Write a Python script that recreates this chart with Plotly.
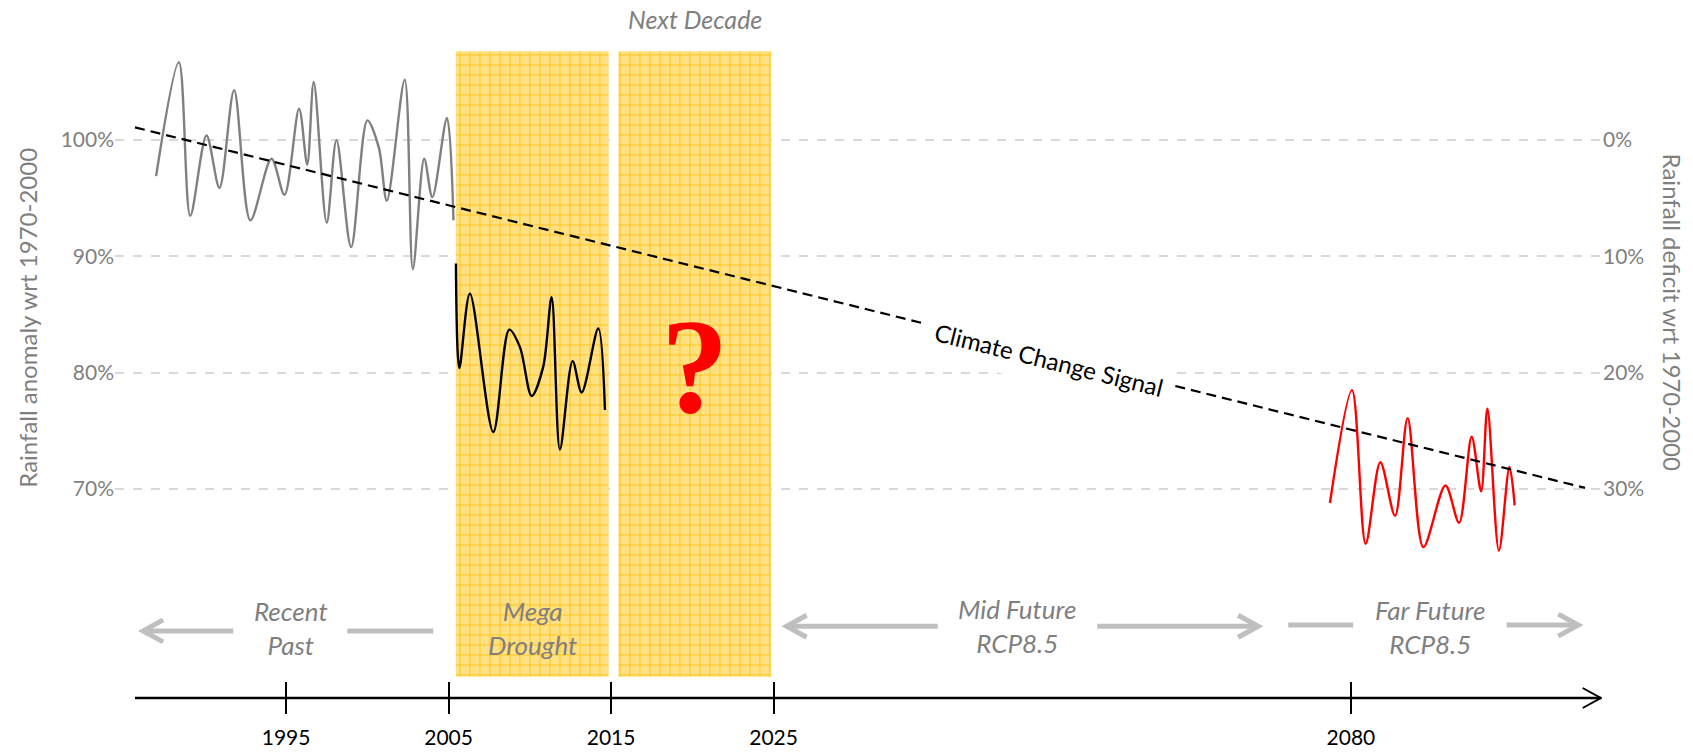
import plotly.graph_objects as go

# ---------------- data ----------------
recent_years = [1987.0, 1988.4, 1989.1, 1990.1, 1990.9, 1991.8, 1992.8, 1994.1, 1994.9,
                1995.8, 1996.3, 1996.7, 1997.5, 1998.1, 1999.0, 2000.0, 2000.7, 2001.2,
                2002.3, 2002.8, 2003.5, 2004.0, 2004.9, 2005.3]
recent_anom = [96.9, 106.7, 93.5, 100.4, 95.9, 104.3, 93.1, 98.4, 95.3,
               102.7, 97.9, 105.0, 92.9, 100.0, 90.8, 101.7, 99.4, 94.8,
               105.2, 88.9, 98.4, 95.1, 101.9, 93.1]

drought_years = [2005.45, 2005.66, 2006.31, 2007.75, 2008.73, 2009.39, 2010.11, 2010.82,
                 2011.34, 2011.85, 2012.63, 2013.19, 2014.21, 2014.62]
drought_anom = [89.4, 80.4, 86.8, 74.9, 83.7, 82.2, 78.0, 80.5,
                86.5, 73.4, 81.0, 78.3, 83.8, 76.8]

far_years = [2078.0, 2080.1, 2081.4, 2082.8, 2084.2, 2085.4, 2086.9, 2089.0,
             2090.3, 2091.5, 2092.4, 2093.0, 2094.1, 2095.1, 2095.6]
far_anom = [68.8, 78.5, 65.3, 72.3, 67.7, 76.1, 65.0, 70.3,
            67.1, 74.5, 69.8, 76.9, 64.7, 71.9, 68.6]

# climate change signal, expressed as rainfall deficit (%)
trend_years = [1985.7, 2102.3]
trend_deficit = [-1.1, 29.9]

period_start = [2005, 2015]
period_end = [2015, 2025]

tick_years = [1995, 2005, 2015, 2025, 2080]
anom_ticks = [70, 80, 90, 100]
deficit_ticks = [0, 10, 20, 30]

# ---------------- timeline scale (axis broken after 2025) ----------------
BREAK = 2025
COMPRESS = 0.646


def tpos(year):
    return year if year <= BREAK else BREAK + (year - BREAK) * COMPRESS


X0, X1 = 1984.47, 2075.98
Y0, Y1 = 52.03, 111.19
AXIS_START = 1985.7
BOX_TOP, BOX_BOTTOM = 107.65, 53.86

GREY_TXT = "#7F7F7F"
ARROW_GREY = "#BFBFBF"
FONT = "Lato"

fig = go.Figure()

# period boxes (patterned)
centers, widths = [], []
for s, e in zip(period_start, period_end):
    a, b = tpos(s) + 0.45, tpos(e) - 0.15
    centers.append((a + b) / 2)
    widths.append(b - a)
fig.add_trace(go.Bar(
    x=centers, y=[BOX_TOP - BOX_BOTTOM] * len(centers), base=[BOX_BOTTOM] * len(centers),
    width=widths,
    marker=dict(color="#FFDC73", line=dict(width=0),
                pattern=dict(shape="+", fgcolor="#FFC000", bgcolor="#FFE083",
                             size=10, solidity=0.15, fillmode="replace")),
    hoverinfo="skip", showlegend=False))

line_w = 2.4
fig.add_trace(go.Scatter(x=[tpos(v) for v in recent_years], y=recent_anom, mode="lines",
                         line=dict(color="#808080", width=line_w, shape="spline", smoothing=0.9),
                         showlegend=False, name="Recent past"))
fig.add_trace(go.Scatter(x=[tpos(v) for v in drought_years], y=drought_anom, mode="lines",
                         line=dict(color="#000000", width=line_w, shape="spline", smoothing=0.9),
                         showlegend=False, name="Mega drought"))
fig.add_trace(go.Scatter(x=[tpos(v) for v in far_years], y=far_anom, mode="lines",
                         line=dict(color="#FF0000", width=line_w, shape="spline", smoothing=0.9),
                         showlegend=False, name="Far future"))
fig.add_trace(go.Scatter(x=[tpos(v) for v in trend_years], y=trend_deficit, mode="lines",
                         xaxis="x2", yaxis="y2",
                         line=dict(color="#000000", width=2.2, dash="10px,6px"),
                         showlegend=False, name="Climate change signal"))

tickpos = [tpos(y) for y in tick_years]

# ---------------- shapes ----------------
shapes = []
shapes.append(dict(type="line", xref="x", yref="paper", x0=AXIS_START, x1=X1 - 0.05, y0=0, y1=0,
                   line=dict(color="black", width=2.5)))
shapes.append(dict(type="path", xref="x", yref="paper", xsizemode="pixel", ysizemode="pixel",
                   xanchor=X1 - 0.08, yanchor=0, path="M -18,10 L 0,0 L -18,-10",
                   line=dict(color="black", width=2)))


def seg(xa, xb, yv):
    shapes.append(dict(type="line", xref="x", yref="y", x0=xa, x1=xb, y0=yv, y1=yv,
                       line=dict(color=ARROW_GREY, width=5)))


def head(xt, yv, direction):
    s = -1 if direction == "right" else 1
    shapes.append(dict(type="path", xref="x", yref="y", xsizemode="pixel", ysizemode="pixel",
                       xanchor=xt, yanchor=yv,
                       path=f"M {s*20},11 L 0,0 L {s*20},-11",
                       line=dict(color=ARROW_GREY, width=5)))


seg(1986.3, 1991.75, 57.8); head(1986.2, 57.8, "left")
seg(1998.76, 2004.06, 57.8)
seg(2025.9, 2035.1, 58.2); head(2025.8, 58.2, "left")
seg(2044.92, 2054.7, 58.2); head(2054.82, 58.2, "right")
seg(2056.67, 2060.67, 58.3)
seg(2070.11, 2074.4, 58.3); head(2074.52, 58.3, "right")

# ---------------- annotations ----------------
ital = dict(family=FONT, size=26, color=GREY_TXT, style="italic")
ann = []
ann.append(dict(x=centers[1], y=110.4, xref="x", yref="y", text="Next Decade", showarrow=False,
                font=dict(family=FONT, size=25, color=GREY_TXT, style="italic"), yanchor="middle"))
ann.append(dict(x=1995.28, y=58.07, xref="x", yref="y", text="Recent<br>Past", showarrow=False,
                font=ital))
ann.append(dict(x=centers[0], y=58.07, xref="x", yref="y", text="Mega<br>Drought", showarrow=False,
                font=ital))
ann.append(dict(x=2039.96, y=58.24, xref="x", yref="y", text="Mid Future<br>RCP8.5", showarrow=False,
                font=ital))
ann.append(dict(x=2065.39, y=58.16, xref="x", yref="y", text="Far Future<br>RCP8.5", showarrow=False,
                font=ital))
ann.append(dict(x=centers[1], y=80.5, xref="x", yref="y", text="<b>?</b>", showarrow=False,
                font=dict(family="Liberation Serif", size=135, color="#FF0000")))
ann.append(dict(x=2041.94, y=81.18, xref="x", yref="y", text="Climate Change Signal",
                showarrow=False, textangle=14, bgcolor="white", borderpad=10,
                font=dict(family=FONT, size=24, color="black")))
ann.append(dict(x=-0.0594, y=0.5523, xref="paper", yref="paper", xanchor="center", yanchor="middle",
                text="Rainfall anomaly wrt 1970-2000",
                showarrow=False, textangle=-90, font=dict(family=FONT, size=24, color=GREY_TXT)))
ann.append(dict(x=1.0477, y=0.5603, xref="paper", yref="paper", xanchor="center", yanchor="middle",
                text="Rainfall deficit wrt 1970-2000",
                showarrow=False, textangle=90, font=dict(family=FONT, size=24, color=GREY_TXT)))

fig.update_layout(
    width=1693, height=754,
    margin=dict(l=115, r=91, t=10, b=56, autoexpand=False),
    plot_bgcolor="white", paper_bgcolor="white",
    font=dict(family=FONT),
    barmode="overlay",
    showlegend=False,
    xaxis=dict(range=[X0, X1], showgrid=False, zeroline=False, showline=False, automargin=False,
               tickmode="array", tickvals=tickpos, ticktext=[str(y) for y in tick_years],
               ticks="outside", ticklen=15, tickwidth=2, tickcolor="black",
               ticklabelstandoff=6,
               tickfont=dict(family=FONT, size=21, color="black")),
    xaxis2=dict(range=[X0, X1], overlaying="x", anchor="y2", side="bottom", automargin=False,
                showgrid=False, zeroline=False, showline=False,
                tickmode="array", tickvals=tickpos, ticks="inside", ticklen=16,
                tickwidth=2, tickcolor="black", showticklabels=False),
    yaxis=dict(range=[Y0, Y1], tickmode="array", tickvals=anom_ticks, automargin=False,
               ticktext=[f"{v}%" for v in anom_ticks], showgrid=True, gridcolor="#D9D9D9",
               griddash="dash", gridwidth=1.5, zeroline=False, showline=False, ticks="",
               tickfont=dict(family=FONT, size=21, color=GREY_TXT)),
    yaxis2=dict(range=[100 - Y0, 100 - Y1], overlaying="y", side="right", anchor="x2",
                automargin=False,
                tickmode="array", tickvals=deficit_ticks,
                ticktext=[f"{v}%" for v in deficit_ticks], showgrid=False, zeroline=False,
                showline=False, ticks="", tickfont=dict(family=FONT, size=21, color=GREY_TXT)),
    shapes=shapes,
    annotations=ann,
)

fig.write_html("out.html", config={"displayModeBar": False},
               post_script="document.body.style.margin='0';")
